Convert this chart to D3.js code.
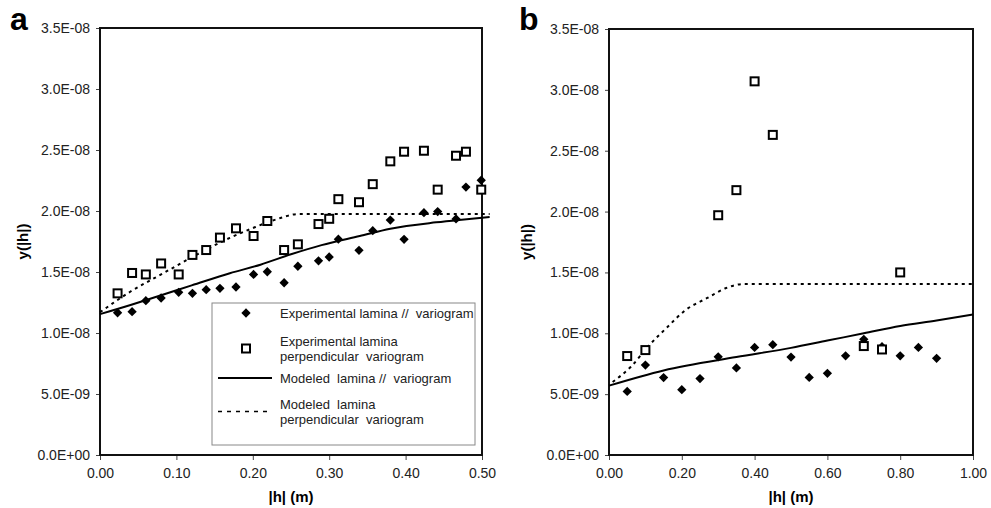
<!DOCTYPE html>
<html>
<head>
<meta charset="utf-8">
<script src="https://cdn.jsdelivr.net/npm/d3@7"></script>
<style>
  body { margin: 0; background: #fff; }
  svg { display: block; font-family: "Liberation Sans", Arial, sans-serif; }
</style>
</head>
<body>
<div id="chart"></div>
<script>

// ---- panel a : lags (m) and semivariance values (x 1e-9) ----
var aLag = [0.023, 0.042, 0.060, 0.080, 0.103, 0.121, 0.139, 0.157, 0.178, 0.201, 0.219, 0.241, 0.259,
  0.286, 0.300, 0.312, 0.339, 0.357, 0.380, 0.398, 0.424, 0.442, 0.466, 0.479, 0.499];
var aParallel = [11.66, 11.75, 12.65, 12.87, 13.33, 13.25, 13.55, 13.66, 13.77, 14.8, 15.02, 14.12, 15.47,
  15.92, 16.23, 17.69, 16.78, 18.39, 19.26, 17.68, 19.86, 19.95, 19.35, 21.96, 22.52];
var aPerp = [13.25, 14.92, 14.8, 15.7, 14.8, 16.4, 16.8, 17.82, 18.58, 17.95, 19.18, 16.8, 17.27,
  18.93, 19.36, 20.97, 20.72, 22.2, 24.07, 24.86, 24.94, 21.75, 24.53, 24.86, 21.75];
var aModelParLag = [0, 0.04, 0.08, 0.12, 0.17, 0.21, 0.25, 0.29, 0.34, 0.38, 0.44, 0.47, 0.51];
var aModelPar = [11.55, 12.3, 13.1, 13.9, 14.9, 15.6, 16.45, 17.2, 17.95, 18.55, 19.07, 19.27, 19.5];
var aModelPerpLag = [0, 0.04, 0.08, 0.12, 0.17, 0.20, 0.23, 0.26, 0.51];
var aModelPerp = [11.7, 13.4, 14.8, 16.2, 17.8, 18.6, 19.3, 19.75, 19.75];

// ---- panel b ----
var bLag = [0.05, 0.10, 0.15, 0.20, 0.25, 0.30, 0.35, 0.40, 0.45, 0.50, 0.55, 0.60, 0.65, 0.70, 0.75,
  0.80, 0.85, 0.90];
var bParallel = [5.22, 7.39, 6.36, 5.37, 6.28, 8.07, 7.15, 8.84, 9.06, 8.05, 6.37, 6.71, 8.15, 9.5, 8.9,
  8.15, 8.84, 7.94];
var bPerpLag = [0.05, 0.10, 0.30, 0.35, 0.40, 0.45, 0.70, 0.75, 0.80];
var bPerp = [8.13, 8.62, 19.7, 21.76, 30.7, 26.3, 8.95, 8.67, 15.0];
var bModelParLag = [0, 0.15, 0.35, 0.5, 0.6, 0.7, 0.8, 0.9, 1.0];
var bModelPar = [5.7, 6.95, 8.05, 8.8, 9.4, 10.0, 10.6, 11.05, 11.55];
var bModelPerpLag = [0.01, 0.06, 0.11, 0.16, 0.21, 0.27, 0.32, 0.37, 1.0];
var bModelPerp = [6.0, 7.25, 9.0, 10.5, 11.9, 12.9, 13.7, 14.05, 14.05];

// axis ticks
var yTicks = [0, 5e-9, 1e-8, 1.5e-8, 2e-8, 2.5e-8, 3e-8, 3.5e-8];
var yTickLabels = ["0.0E+00", "5.0E-09", "1.0E-08", "1.5E-08", "2.0E-08", "2.5E-08", "3.0E-08", "3.5E-08"];
var aXTicks = [0, 0.1, 0.2, 0.3, 0.4, 0.5];
var bXTicks = [0, 0.2, 0.4, 0.6, 0.8, 1.0];

var legendLabels = [
  ["Experimental lamina //  variogram"],
  ["Experimental lamina", "perpendicular  variogram"],
  ["Modeled  lamina //  variogram"],
  ["Modeled  lamina", "perpendicular  variogram"]
];

var svgWidth = 991;
var svgHeight = 508;

var svg = d3.select("#chart")
  .append("svg")
  .attr("width", svgWidth)
  .attr("height", svgHeight);

var toPairs = function(xs, ys) {
  return xs.map(function(x, i) { return [x, ys[i] * 1e-9]; });
};

function drawPanel(p) {
  var x = d3.scaleLinear().domain(p.xDomain).range([p.left, p.right]);
  var y = d3.scaleLinear().domain([0, 3.5e-8]).range([p.bottom, p.top]);

  // y axis
  var yAxis = svg.append("g")
    .attr("transform", `translate(${p.left},0)`)
    .call(d3.axisLeft(y).tickValues(yTicks).tickSize(4).tickPadding(6)
      .tickFormat(function(d, i) { return yTickLabels[i]; }));
  yAxis.select(".domain").remove();

  // x axis
  var xAxis = svg.append("g")
    .attr("transform", `translate(0,${p.bottom})`)
    .call(d3.axisBottom(x).tickValues(p.xTicks).tickSize(5).tickPadding(8)
      .tickFormat(d3.format(".2f")));
  xAxis.select(".domain").remove();

  svg.selectAll(".tick line").attr("stroke", "#444");
  svg.selectAll(".tick text")
    .attr("fill", "#222")
    .style("font-size", "14px");

  // plot frame
  svg.append("rect")
    .attr("x", p.left)
    .attr("y", p.top)
    .attr("width", p.right - p.left)
    .attr("height", p.bottom - p.top)
    .attr("fill", "none")
    .attr("stroke", "#111")
    .attr("stroke-width", 2);

  var line = d3.line()
    .curve(d3.curveMonotoneX)
    .x(d => x(d[0]))
    .y(d => y(d[1]));

  // modeled variograms
  svg.append("path")
    .datum(toPairs(p.modelParLag, p.modelPar))
    .attr("d", line)
    .attr("fill", "none")
    .attr("stroke", "#000")
    .attr("stroke-width", 2);

  svg.append("path")
    .datum(toPairs(p.modelPerpLag, p.modelPerp))
    .attr("d", line)
    .attr("fill", "none")
    .attr("stroke", "#000")
    .attr("stroke-width", 2)
    .attr("stroke-dasharray", "3,4");

  // experimental // (diamonds)
  svg.append("g").selectAll("path")
    .data(toPairs(p.parLag, p.par))
    .enter()
    .append("path")
    .attr("d", d3.symbol().type(d3.symbolDiamond2).size(55))
    .attr("transform", d => `translate(${x(d[0])},${y(d[1])})`)
    .attr("fill", "#000");

  // experimental perpendicular (squares)
  svg.append("g").selectAll("rect")
    .data(toPairs(p.perpLag, p.perp))
    .enter()
    .append("rect")
    .attr("x", d => x(d[0]) - 4)
    .attr("y", d => y(d[1]) - 4)
    .attr("width", 8)
    .attr("height", 8)
    .attr("fill", "#fff")
    .attr("stroke", "#000")
    .attr("stroke-width", 2);

  // panel letter
  svg.append("text")
    .attr("x", p.letterX)
    .attr("y", 30)
    .style("font-size", "32px")
    .style("font-weight", "bold")
    .text(p.letter);

  // axis titles
  svg.append("text")
    .attr("x", (p.left + p.right) / 2)
    .attr("y", 502)
    .attr("text-anchor", "middle")
    .style("font-size", "15px")
    .style("font-weight", "bold")
    .style("white-space", "pre")
    .text("|h| (m)");

  svg.append("text")
    .attr("transform", `translate(${p.yTitleX},${(p.top + p.bottom) / 2}) rotate(-90)`)
    .attr("text-anchor", "middle")
    .attr("dy", "0.35em")
    .style("font-size", "15px")
    .style("font-weight", "bold")
    .text("y(|h|)");

  return {x: x, y: y};
}

drawPanel({
  letter: "a", letterX: 10, yTitleX: 23,
  left: 100, right: 482, top: 28, bottom: 455,
  xDomain: [0, 0.5], xTicks: aXTicks,
  parLag: aLag, par: aParallel, perpLag: aLag, perp: aPerp,
  modelParLag: aModelParLag, modelPar: aModelPar,
  modelPerpLag: aModelPerpLag, modelPerp: aModelPerp
});

drawPanel({
  letter: "b", letterX: 519, yTitleX: 527,
  left: 609, right: 973, top: 29, bottom: 455,
  xDomain: [0, 1], xTicks: bXTicks,
  parLag: bLag, par: bParallel, perpLag: bPerpLag, perp: bPerp,
  modelParLag: bModelParLag, modelPar: bModelPar,
  modelPerpLag: bModelPerpLag, modelPerp: bModelPerp
});

// legend inside panel a
var legend = svg.append("g");

legend.append("rect")
  .attr("x", 212)
  .attr("y", 303)
  .attr("width", 263)
  .attr("height", 142)
  .attr("fill", "#fff")
  .attr("stroke", "#888")
  .attr("stroke-width", 1);

var rowY = [313, 348.5, 378, 411.5];

legend.append("path")
  .attr("d", d3.symbol().type(d3.symbolDiamond2).size(55))
  .attr("transform", `translate(246,${rowY[0]})`)
  .attr("fill", "#000");

legend.append("rect")
  .attr("x", 242)
  .attr("y", rowY[1] - 4)
  .attr("width", 8)
  .attr("height", 8)
  .attr("fill", "#fff")
  .attr("stroke", "#000")
  .attr("stroke-width", 2);

legend.append("line")
  .attr("x1", 218).attr("x2", 272)
  .attr("y1", rowY[2]).attr("y2", rowY[2])
  .attr("stroke", "#000")
  .attr("stroke-width", 2);

legend.append("line")
  .attr("x1", 218).attr("x2", 272)
  .attr("y1", rowY[3]).attr("y2", rowY[3])
  .attr("stroke", "#000")
  .attr("stroke-width", 1.5)
  .attr("stroke-dasharray", "4,5");

legendLabels.forEach(function(lines, i) {
  var t = legend.append("text")
    .attr("y", rowY[i] - (lines.length - 1) * 7.5)
    .attr("fill", "#222")
    .style("font-size", "13px")
    .style("white-space", "pre");
  lines.forEach(function(s, j) {
    t.append("tspan")
      .attr("x", 280)
      .attr("dy", j === 0 ? "0.35em" : "15px")
      .text(s);
  });
});

</script>
</body>
</html>
